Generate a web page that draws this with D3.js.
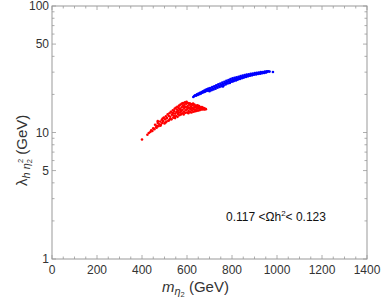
<!DOCTYPE html>
<html>
<head>
<meta charset="utf-8">
<script src="https://cdn.jsdelivr.net/npm/d3@7"></script>
<style>
  body { margin: 0; background: #fff; }
  text { font-family: "Liberation Sans", Arial, sans-serif; }
</style>
</head>
<body>
<div id="chart"></div>
<script>
var svgWidth = 382;
var svgHeight = 305;

var margin = { top: 6, right: 15, bottom: 46, left: 52 };
var width = svgWidth - margin.left - margin.right;
var height = svgHeight - margin.top - margin.bottom;

// data: [m_eta2 (GeV), lambda (GeV)]
var redPoints = [
  [400,8.8],[424,9.6],[430,9.9],[437,10.1],[441,10.4],[446,10.3],[450,10.8],[455,10.6],[458,11.5],[462,11.0],
  [466,11.3],[470,11.9],[473,11.2],[477,11.6],[481,12.2],[484,11.5],[488,12.6],[490,11.9],[494,12.3],[497,13.1],
  [500,11.8],[503,12.7],[506,13.4],[509,12.2],[511,13.0],[514,13.9],[517,12.4],[519,13.5],[522,14.2],[524,12.8],
  [526,13.3],[528,14.6],[531,12.7],[533,13.8],[535,14.3],[537,15.0],[539,13.1],[541,13.6],[543,14.8],[545,15.4],
  [547,13.0],[548,14.1],[550,15.7],[552,13.5],[553,14.5],[555,15.2],[557,16.0],[558,13.3],[560,14.0],[561,14.9],
  [563,15.6],[565,16.3],[566,13.7],[568,14.4],[569,15.3],[571,16.6],[573,13.9],[574,14.7],[576,15.8],[577,16.9],
  [579,14.2],[580,15.1],[582,16.3],[583,17.1],[585,13.9],[586,14.6],[588,15.5],[589,16.6],[591,17.3],[592,14.3],
  [594,15.0],[595,15.9],[597,16.9],[598,17.5],[600,14.4],[601,15.3],[603,16.2],[604,17.1],[606,14.2],[607,14.8],
  [609,15.7],[610,16.6],[612,17.0],[614,14.5],[615,15.2],[617,16.1],[618,16.8],[620,14.4],[622,15.0],[623,15.6],
  [625,16.4],[627,16.9],[628,14.6],[630,15.3],[632,15.9],[633,16.6],[635,14.7],[637,15.1],[638,15.8],[640,16.3],
  [642,14.8],[644,15.4],[645,16.0],[647,16.4],[649,14.9],[651,15.5],[652,15.9],[654,16.2],[656,15.0],[658,15.4],
  [660,15.8],[662,15.2],[664,15.6],[666,15.9],[668,15.2],[670,15.5],[672,15.7],[674,15.3],[676,15.5],[678,15.2],
  [680,15.4],[684,15.3],[556,14.6],[572,15.0],[590,16.0],[605,15.6],[616,15.5],[585,16.0],[563,14.4],[540,14.2],
  [465,10.9],[482,11.3],[505,12.0],[520,12.5],[545,13.3],[470,12.3],[492,12.9]
];

var bluePoints = [
  [628,19.1],[632,19.4],[636,19.7],[640,19.5],[644,20.0],[648,19.8],[651,20.3],[655,20.1],[658,20.6],[662,20.3],
  [665,20.9],[668,20.6],[671,21.2],[674,20.8],[677,21.5],[680,21.0],[683,21.8],[686,21.3],[689,22.0],[692,21.4],
  [695,22.3],[698,21.7],[700,21.2],[703,22.5],[706,22.0],[709,21.6],[712,22.9],[715,22.3],[718,21.9],[721,23.2],
  [724,22.7],[727,22.2],[730,23.6],[733,23.0],[736,22.6],[739,24.0],[742,23.4],[745,22.9],[748,24.4],[751,23.8],
  [754,23.2],[757,24.8],[760,24.2],[763,23.6],[766,25.2],[769,24.6],[772,24.0],[775,25.6],[778,25.0],[781,24.4],
  [784,26.0],[787,25.4],[790,24.8],[793,26.4],[796,25.8],[799,25.2],[802,26.8],[805,26.1],[808,25.5],[811,27.1],
  [814,26.4],[817,25.8],[820,27.3],[823,26.7],[826,26.2],[829,27.6],[832,27.0],[835,26.5],[838,27.9],[841,27.3],
  [844,26.9],[847,28.2],[850,27.6],[853,27.2],[856,28.5],[859,27.9],[862,27.5],[865,28.7],[868,28.2],[871,27.8],
  [874,28.9],[877,28.4],[880,28.1],[883,29.1],[886,28.7],[889,28.3],[892,29.3],[895,28.9],[898,28.6],[901,29.5],
  [904,29.1],[907,28.8],[910,29.6],[913,29.3],[916,29.0],[919,29.8],[922,29.5],[925,29.2],[928,30.0],[931,29.6],
  [934,29.4],[937,30.1],[940,29.8],[943,29.6],[946,30.3],[949,30.0],[952,29.8],[955,30.4],[958,30.2],[962,30.5],
  [967,30.3],[982,30.1],[760,23.1],[790,24.6],[820,26.0],[850,27.3],[775,24.8],[805,25.4]
];

var xTicks = [0, 200, 400, 600, 800, 1000, 1200, 1400];
var yTicks = [1, 5, 10, 50, 100];
var yMinor = [2, 3, 4, 6, 7, 8, 9, 20, 30, 40, 60, 70, 80, 90];

var svg = d3.select('#chart')
  .append('svg')
  .attr('width', svgWidth)
  .attr('height', svgHeight);

var chartGroup = svg.append('g')
  .attr('transform', `translate(${margin.left}, ${margin.top})`);

var xScale = d3.scaleLinear().domain([0, 1400]).range([0, width]);
var yScale = d3.scaleLog().domain([1, 100]).range([height, 0]);

var xMinor = d3.range(0, 1401, 50).filter(d => d % 200 !== 0);

var frameColor = '#999';
var labelColor = '#333';

// ticks (inward), on all four sides
function ticks(vals, len, axis) {
  vals.forEach(function(v) {
    if (axis === 'x') {
      var x = xScale(v);
      chartGroup.append('line').attr('x1', x).attr('x2', x).attr('y1', height).attr('y2', height - len)
        .attr('stroke', frameColor).attr('stroke-width', 0.8);
      chartGroup.append('line').attr('x1', x).attr('x2', x).attr('y1', 0).attr('y2', len)
        .attr('stroke', frameColor).attr('stroke-width', 0.8);
    } else {
      var y = yScale(v);
      chartGroup.append('line').attr('x1', 0).attr('x2', len).attr('y1', y).attr('y2', y)
        .attr('stroke', frameColor).attr('stroke-width', 0.8);
      chartGroup.append('line').attr('x1', width).attr('x2', width - len).attr('y1', y).attr('y2', y)
        .attr('stroke', frameColor).attr('stroke-width', 0.8);
    }
  });
}
ticks(xTicks, 4, 'x');
ticks(xMinor, 2.5, 'x');
ticks(yTicks, 4, 'y');
ticks(yMinor, 2.5, 'y');

// frame
chartGroup.append('rect')
  .attr('width', width).attr('height', height)
  .attr('fill', 'none').attr('stroke', frameColor).attr('stroke-width', 1);

// tick labels
chartGroup.selectAll('.xlab')
  .data(xTicks).enter().append('text')
  .attr('x', d => xScale(d)).attr('y', height + 15)
  .attr('text-anchor', 'middle').attr('font-size', 12).attr('fill', labelColor)
  .text(d => d);

chartGroup.selectAll('.ylab')
  .data(yTicks).enter().append('text')
  .attr('x', -3).attr('y', d => yScale(d) + 4)
  .attr('text-anchor', 'end').attr('font-size', 12).attr('fill', labelColor)
  .text(d => d);

// points
chartGroup.selectAll('.red')
  .data(redPoints).enter().append('circle')
  .attr('cx', d => xScale(d[0])).attr('cy', d => yScale(d[1]))
  .attr('r', 1.3).attr('fill', '#ff0000');

chartGroup.selectAll('.blue')
  .data(bluePoints).enter().append('circle')
  .attr('cx', d => xScale(d[0])).attr('cy', d => yScale(d[1]))
  .attr('r', 1.3).attr('fill', '#0000ff');

// annotation
var ann = chartGroup.append('text')
  .attr('x', 174).attr('y', 215).attr('font-size', 12).attr('fill', '#111');
ann.append('tspan').text('0.117 <\u03A9h');
ann.append('tspan').attr('font-size', 8).attr('dy', -5).text('2');
ann.append('tspan').attr('dy', 5).text('< 0.123');

// x axis label
var xl = svg.append('text')
  .attr('x', 162).attr('y', 292).attr('font-size', 15).attr('fill', '#333');
xl.append('tspan').attr('font-style', 'italic').text('m');
xl.append('tspan').attr('font-style', 'italic').attr('font-size', 11).attr('dy', 3).text('\u03B7');
xl.append('tspan').attr('font-size', 7.5).attr('dy', 1.5).text('2');
xl.append('tspan').attr('dy', -4.5).text(' (GeV)');

// y axis label
var yl = svg.append('text')
  .attr('transform', 'translate(27, 186) rotate(-90)')
  .attr('font-size', 15).attr('fill', '#333');
yl.append('tspan').text('\u03BB');
yl.append('tspan').attr('font-style', 'italic').attr('font-size', 11).attr('dy', 3).text('h \u03B7');
yl.append('tspan').attr('font-size', 7.5).attr('dy', 1.5).text('2');
yl.append('tspan').attr('font-size', 7.5).attr('dy', -9).attr('dx', -4).text('2');
yl.append('tspan').attr('dy', 4.5).text(' (GeV)');
</script>
</body>
</html>
